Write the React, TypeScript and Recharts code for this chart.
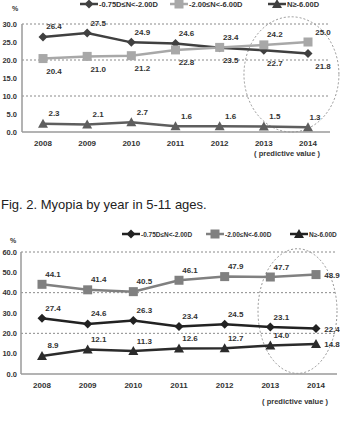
import { LineChart, Line, XAxis, YAxis, CartesianGrid, LabelList, ReferenceArea } from "recharts";

const years = [2008, 2009, 2010, 2011, 2012, 2013, 2014];
const seriesNames = ["-0.75D≤N<-2.00D", "-2.00≤N<-6.00D", "N≥-6.00D"];

// upper panel
const topLow = [26.4, 27.5, 24.9, 24.6, 23.4, 22.7, 21.8];
const topMid = [20.4, 21.0, 21.2, 22.8, 23.5, 24.2, 25.0];
const topHigh = [2.3, 2.1, 2.7, 1.6, 1.6, 1.5, 1.3];
const topTicks = [0, 5, 10, 15, 20, 25, 30];

// lower panel
const bottomLow = [27.4, 24.6, 26.3, 23.4, 24.5, 23.1, 22.4];
const bottomMid = [44.1, 41.4, 40.5, 46.1, 47.9, 47.7, 48.9];
const bottomHigh = [8.9, 12.1, 11.3, 12.6, 12.7, 14.0, 14.8];
const bottomTicks = [0, 10, 20, 30, 40, 50, 60];

const FONT = "Arial, 'Liberation Sans', sans-serif";
const LAST = years.length - 1;

const buildRows = (low: number[], mid: number[], high: number[]) =>
  years.map((year, i) => ({ year, low: low[i], mid: mid[i], high: high[i] }));

const Marker = ({ cx, cy, shape, color }: any) => {
  if (cx == null || cy == null) return null;
  if (shape === "diamond") {
    const s = 4.5;
    return (
      <polygon
        points={`${cx},${cy - s} ${cx + s},${cy} ${cx},${cy + s} ${cx - s},${cy}`}
        fill={color}
      />
    );
  }
  if (shape === "square") {
    return <rect x={cx - 4.5} y={cy - 4.5} width={9} height={9} fill={color} />;
  }
  const s = 5;
  return (
    <polygon
      points={`${cx},${cy - s} ${cx + s},${cy + s * 0.8} ${cx - s},${cy + s * 0.8}`}
      fill={color}
    />
  );
};

const makeLabel = (place: string[], lastDx: number) => (p: any) => {
  const { x, y, value, index } = p;
  const pos = place[index];
  let dx = index === LAST ? lastDx : 11;
  let dy = pos === "top" ? -10 : 13;
  if (pos === "right") {
    dx = 16;
    dy = 1;
  }
  return (
    <text
      key={`lbl-${index}`}
      x={x + dx}
      y={y + dy}
      textAnchor="middle"
      dominantBaseline="central"
      fontSize={8}
      fontWeight="bold"
      fontFamily={FONT}
      fill="#333"
    >
      {Number(value).toFixed(1)}
    </text>
  );
};

const YearTick = ({ x, y, payload, noteDy }: any) => (
  <g>
    <text
      x={x}
      y={y + 11}
      textAnchor="middle"
      dominantBaseline="central"
      fontSize={8}
      fontWeight="bold"
      fontFamily={FONT}
      fill="#333"
    >
      {payload.value}
    </text>
    {payload.value === years[LAST] && (
      <text
        x={x - 21}
        y={y + noteDy}
        textAnchor="middle"
        dominantBaseline="central"
        fontSize={7.5}
        fontWeight="bold"
        fontFamily={FONT}
        fill="#333"
      >
        ( predictive value )
      </text>
    )}
  </g>
);

const LegendRow = ({ items, top, fontSize }: any) => (
  <>
    {items.map((it: any, i: number) => (
      <div
        key={i}
        style={{
          position: "absolute",
          left: it.left,
          top: top - 5,
          height: 10,
          display: "flex",
          alignItems: "center",
          fontSize,
          fontWeight: "bold",
          fontFamily: FONT,
          color: "#333",
          whiteSpace: "nowrap",
        }}
      >
        <svg width={18} height={10} style={{ marginRight: 1 }}>
          <line x1={0} y1={5} x2={18} y2={5} stroke={it.color} strokeWidth={2.5} />
          <Marker cx={9} cy={5} shape={it.shape} color={it.color} />
        </svg>
        {seriesNames[i]}
      </div>
    ))}
  </>
);

const Panel = ({ rows, ticks, series, top, height, margin, yWidth, tickMargin, padding, ellipse, noteDy }: any) => (
  <div style={{ position: "absolute", left: -10, top }}>
    <LineChart width={350} height={height} data={rows} margin={margin}>
      <CartesianGrid
        horizontal
        vertical={false}
        stroke="#8a8a8a"
        strokeDasharray="2 2"
        horizontalValues={ticks.slice(1)}
      />
      <XAxis
        dataKey="year"
        type="number"
        domain={[years[0], years[LAST]]}
        ticks={years}
        padding={padding}
        tickSize={0}
        tickMargin={0}
        axisLine={{ stroke: "#9a9a9a", strokeWidth: 1.5 }}
        tick={<YearTick noteDy={noteDy} />}
        interval={0}
      />
      <YAxis
        type="number"
        domain={[ticks[0], ticks[ticks.length - 1]]}
        ticks={ticks}
        width={yWidth}
        tickSize={0}
        tickMargin={tickMargin}
        axisLine={{ stroke: "#9a9a9a", strokeWidth: 1.5 }}
        tickFormatter={(v: number) => v.toFixed(1)}
        tick={{ fontSize: 7.5, fontWeight: "bold", fill: "#333", fontFamily: FONT }}
      />
      <ReferenceArea
        x1={ellipse.x1}
        x2={ellipse.x2}
        y1={ellipse.y1}
        y2={ellipse.y2}
        ifOverflow="visible"
        shape={(p: any) => (
          <ellipse
            cx={p.x + p.width / 2}
            cy={p.y + p.height / 2}
            rx={Math.abs(p.width) / 2}
            ry={Math.abs(p.height) / 2}
            fill="none"
            stroke="#8a8a8a"
            strokeWidth={0.9}
            strokeDasharray="2 2"
          />
        )}
      />
      {series.map((s: any) => (
        <Line
          key={s.key}
          dataKey={s.key}
          stroke={s.color}
          strokeWidth={2.5}
          isAnimationActive={false}
          dot={(p: any) => <Marker key={`${s.key}-${p.index}`} cx={p.cx} cy={p.cy} shape={s.shape} color={s.color} />}
        >
          <LabelList dataKey={s.key} content={makeLabel(s.place, s.lastDx)} />
        </Line>
      ))}
    </LineChart>
  </div>
);

const T = "top";
const B = "bottom";
const R = "right";

export default function App() {
  const topRows = buildRows(topLow, topMid, topHigh);
  const bottomRows = buildRows(bottomLow, bottomMid, bottomHigh);

  const topSeries = [
    { key: "low", color: "#404040", shape: "diamond", place: [T, T, T, T, T, B, B], lastDx: 15 },
    { key: "mid", color: "#a8a8a8", shape: "square", place: [B, B, B, B, B, T, T], lastDx: 15 },
    { key: "high", color: "#5e5e5e", shape: "triangle", place: [T, T, T, T, T, T, T], lastDx: 7 },
  ];
  const bottomSeries = [
    { key: "low", color: "#222222", shape: "diamond", place: [T, T, T, T, T, T, R], lastDx: 16 },
    { key: "mid", color: "#808080", shape: "square", place: [T, T, T, T, T, T, R], lastDx: 16 },
    { key: "high", color: "#2b2b2b", shape: "triangle", place: [T, T, T, T, T, T, R], lastDx: 16 },
  ];

  return (
    <div
      style={{
        position: "absolute",
        left: 0,
        top: 0,
        width: 340,
        height: 437,
        overflow: "hidden",
        background: "#fff",
        fontFamily: FONT,
      }}
    >
      <Panel
        rows={topRows}
        ticks={topTicks}
        series={topSeries}
        top={0}
        height={195}
        margin={{ top: 24, right: 10, bottom: 33, left: 0 }}
        yWidth={32}
        tickMargin={5}
        padding={{ left: 21, right: 22 }}
        ellipse={{ x1: 2012.55, x2: 2014.7, y1: 0, y2: 32 }}
        noteDy={21}
      />
      <div style={{ position: "absolute", left: 12, top: 5, fontSize: 7, fontWeight: "bold", color: "#333" }}>%</div>
      <LegendRow
        top={4}
        fontSize={7.5}
        items={[
          { left: 80, color: "#404040", shape: "diamond" },
          { left: 170, color: "#a8a8a8", shape: "square" },
          { left: 268, color: "#404040", shape: "triangle" },
        ]}
      />

      <div
        style={{
          position: "absolute",
          left: 1,
          top: 197,
          fontSize: 13,
          color: "#222",
          whiteSpace: "nowrap",
        }}
      >
        Fig. 2. Myopia by year in 5-11 ages.
      </div>

      <Panel
        rows={bottomRows}
        ticks={bottomTicks}
        series={bottomSeries}
        top={215}
        height={222}
        margin={{ top: 37, right: 3, bottom: 33, left: 0 }}
        yWidth={31}
        tickMargin={4}
        padding={{ left: 21, right: 21 }}
        ellipse={{ x1: 2012.73, x2: 2014.46, y1: 0.3, y2: 61.6 }}
        noteDy={27}
      />
      <div style={{ position: "absolute", left: 10, top: 237, fontSize: 7, fontWeight: "bold", color: "#333" }}>%</div>
      <LegendRow
        top={234}
        fontSize={6.5}
        items={[
          { left: 122, color: "#222222", shape: "diamond" },
          { left: 206, color: "#808080", shape: "square" },
          { left: 290, color: "#222222", shape: "triangle" },
        ]}
      />
    </div>
  );
}
